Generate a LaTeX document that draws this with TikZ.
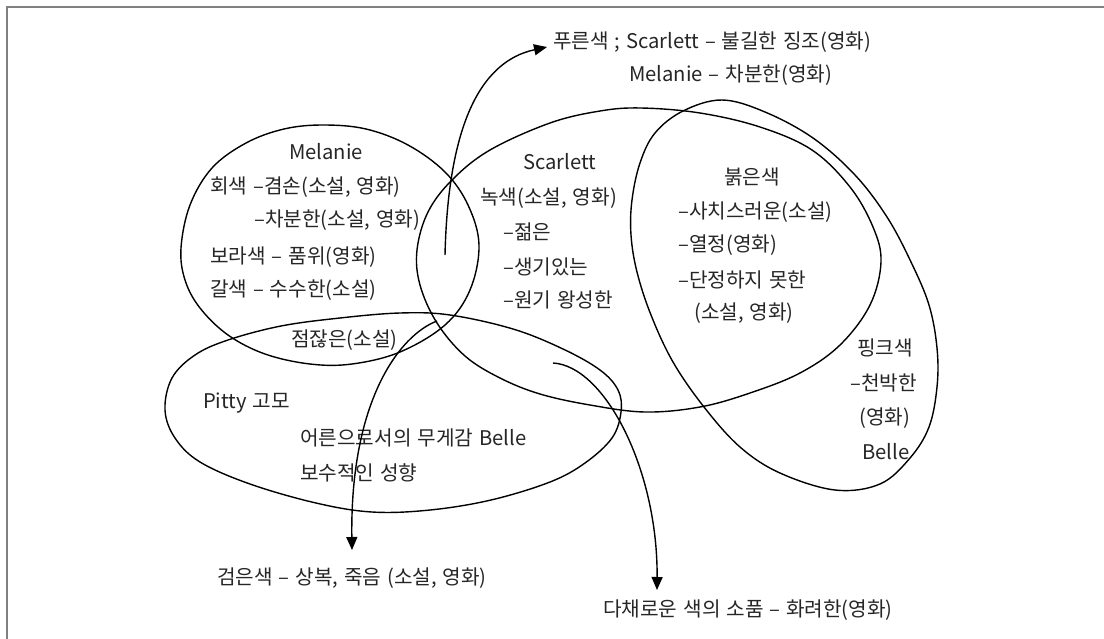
\documentclass[tikz,border=0pt]{standalone}
\usepackage{fontspec}
\setmainfont[WordSpace=1.3]{Noto Sans CJK KR}
\usetikzlibrary{arrows.meta}
\begin{document}
\begin{tikzpicture}[x=1pt,y=-1pt,
  lab/.style={anchor=west,inner sep=0pt,text=black!85,font=\fontsize{20.2}{24}\selectfont},
  labc/.style={lab,anchor=center},
  curve/.style={line width=1.4pt,black},
  arr/.style={curve,-{Triangle[length=13pt,width=11pt]}},
  frameline/.style={line width=1.6pt,black!50}]
\useasboundingbox (0,0) rectangle (1104,638);
\fill[white] (0,0) rectangle (1104,638);
% frame
\coordinate (fbl) at (7,640);
\coordinate (ftl) at (7,7);
\coordinate (ftr) at (1106,7);
\draw[frameline] (fbl) -- (ftl) -- (ftr);

% Melanie
\draw[curve] plot[smooth cycle,tension=0.6] coordinates {
 (181,248) (190,205) (212,168) (246,143) (284,129) (323,125) (366,129) (408,145)
 (445,172) (468,205) (479,245) (470,290) (445,325) (400,352) (352,364) (310,364)
 (265,354) (228,335) (200,308) (185,280)};
% Scarlett
\draw[curve] plot[smooth cycle,tension=0.6] coordinates {
 (417,250) (428,212) (452,180) (490,150) (550,123) (600,111) (641,108) (700,113)
 (760,127) (812,150) (850,187) (873,227) (881,262) (870,305) (840,345) (800,373)
 (750,393) (700,407) (645,412) (590,405) (540,394) (500,378) (465,356) (437,323)
 (420,285)};
% Pitty
\draw[curve] plot[smooth cycle,tension=0.6] coordinates {
 (165,410) (172,378) (195,355) (228,340) (281,326) (340,318) (400,313) (450,315)
 (513,329) (563,349) (600,370) (618,390) (621,412) (612,438) (585,463) (550,482)
 (491,500) (430,510) (372,512) (316,503) (250,484) (200,462) (175,438)};
% Belle
\draw[curve] plot[smooth cycle,tension=0.6] coordinates {
 (722,100) (683,111) (655,133) (640,163) (632,200) (631,235) (637,272) (651,315)
 (673,362) (704,407) (740,447) (780,473) (835,490) (880,484) (910,458) (929,427)
 (937,387) (937,348) (929,305) (911,262) (887,217) (855,175) (813,138) (765,112)};

% texts
\node[lab] (blue1) at (553,42) {푸른색 ; Scarlett – 불길한 징조(영화)};
\node[lab] (blue2) at (629,75) {Melanie – 차분한(영화)};

\node[labc] (mel) at (326,152) {Melanie};
\node[lab] (m1) at (210,187) {회색 –겸손(소설, 영화)};
\node[lab] (m2) at (254,220) {–차분한(소설, 영화)};
\node[lab] (m3) at (210,257) {보라색 – 품위(영화)};
\node[lab] (m4) at (210,290) {갈색 – 수수한(소설)};
\node[lab] (m5) at (291,340) {점잖은(소설)};

\node[lab] (sc) at (523,162) {Scarlett};
\node[lab] (s1) at (480,198) {녹색(소설, 영화)};
\node[lab] (s2) at (503,232) {–젊은};
\node[lab] (s3) at (503,267) {–생기있는};
\node[lab] (s4) at (503,300) {–원기 왕성한};

\node[labc] (red) at (752,177) {붉은색};
\node[lab] (r1) at (678,212) {–사치스러운(소설)};
\node[lab] (r2) at (678,245) {–열정(영화)};
\node[lab] (r3) at (678,280) {–단정하지 못한};
\node[lab] (r4) at (694,313) {(소설, 영화)};

\node[lab] (p1) at (857,348) {핑크색};
\node[lab] (p2) at (850,383) {–천박한};
\node[lab] (p3) at (859,418) {(영화)};
\node[lab] (p4) at (862,452) {Belle};

\node[lab] (pit) at (203,403) {Pitty 고모};
\node[lab] (pt1) at (300,438) {어른으로서의 무게감 Belle};
\node[lab] (pt2) at (300,473) {보수적인 성향};

\node[lab] (black) at (217,578) {검은색 – 상복, 죽음 (소설, 영화)};
\node[lab] (multi) at (603,610) {다채로운 색의 소품 – 화려한(영화)};

% arrows
\coordinate (upS) at (445,255);
\coordinate (upE) at (547,47);
\draw[arr] (upS) .. controls (448,130) and (478,62) .. (upE);
\coordinate (dnS) at (437,321);
\coordinate (dnE) at (352,550);
\draw[arr] (dnS) .. controls (400,335) and (350,400) .. (dnE);
\coordinate (mcS) at (553,363);
\coordinate (mcE) at (657,590);
\draw[arr] (mcS) .. controls (605,366) and (658,470) .. (mcE);
\end{tikzpicture}
\end{document}
